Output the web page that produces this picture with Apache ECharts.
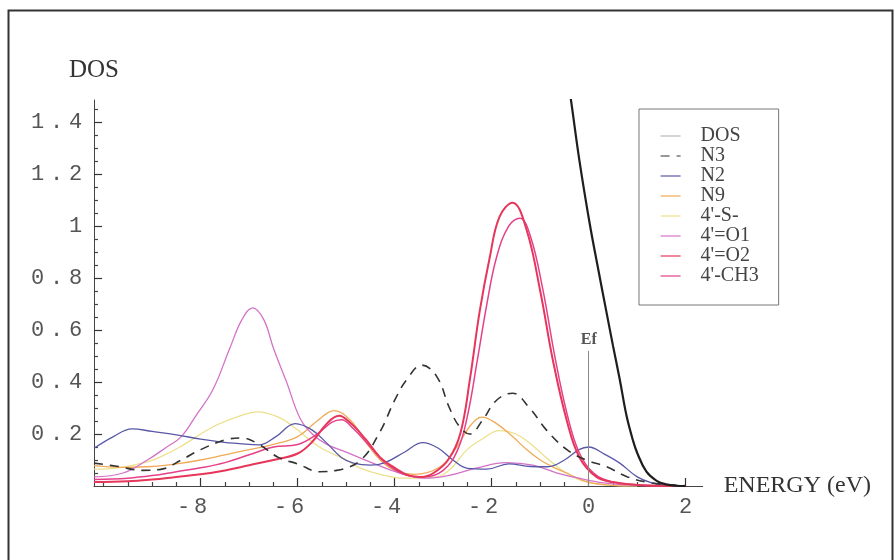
<!DOCTYPE html>
<html><head><meta charset="utf-8">
<script src="https://cdn.jsdelivr.net/npm/echarts@6/dist/echarts.min.js"></script>
<style>html,body{margin:0;padding:0;background:#fff}#c{width:895px;height:560px}</style>
</head><body><div id="c"></div>
<script>
// ---- tick labels ----
const xMajorTicks = [-8, -6, -4, -2, 0, 2];
const xMinorTicks = [-10, -9.5, -9, -8.5, -7.5, -7, -6.5, -5.5, -5, -4.5, -3.5, -3, -2.5, -1.5, -1, -0.5, 0.5, 1, 1.5];
const yMajorTicks = [0.2, 0.4, 0.6, 0.8, 1, 1.2, 1.4];
const yMinorTicks = [0.05, 0.1, 0.15, 0.25, 0.3, 0.35, 0.45, 0.5, 0.55, 0.65, 0.7, 0.75, 0.85, 0.9, 0.95, 1.05, 1.1, 1.15, 1.25, 1.3, 1.35, 1.45];

// ---- series names ----
const seriesNames = ["DOS", "N3", "N2", "N9", "4'-S-", "4'=O1", "4'=O2", "4'-CH3"];

// ---- data (energy in eV, DOS) ----
const dosX = [-0.5, -0.37, -0.19, 0.02, 0.2, 0.37, 0.5, 0.64, 0.78, 0.91, 1.0, 1.19, 1.4, 1.6, 1.8, 2.0];
const dosY = [1.65, 1.49, 1.25, 1.01, 0.83, 0.665, 0.54, 0.41, 0.27, 0.177, 0.127, 0.055, 0.02, 0.006, 0.001, 0];

const n3X = [-10.2, -9.7, -9.2, -8.8, -8.4, -8.0, -7.5, -7.15, -6.8, -6.4, -6.0, -5.55, -5.2, -4.7, -4.3, -4.0, -3.75, -3.44, -3.13, -2.87, -2.66, -2.45, -2.2, -1.9, -1.57, -1.22, -0.87, -0.45, -0.05, 0.37, 0.8, 1.2, 1.6, 2.0];
const n3Y = [0.088, 0.075, 0.06, 0.065, 0.10, 0.14, 0.177, 0.185, 0.16, 0.11, 0.085, 0.055, 0.06, 0.10, 0.21, 0.33, 0.41, 0.465, 0.42, 0.30, 0.227, 0.2, 0.25, 0.33, 0.357, 0.30, 0.215, 0.14, 0.10, 0.074, 0.035, 0.015, 0.005, 0.001];

const n2X = [-10.2, -9.8, -9.42, -9.0, -8.5, -8.0, -7.6, -7.2, -6.8, -6.45, -6.05, -5.7, -5.4, -5.1, -4.85, -4.5, -4.2, -3.8, -3.42, -3.1, -2.8, -2.5, -2.1, -1.65, -1.2, -0.85, -0.5, -0.2, 0.0, 0.3, 0.64, 1.0, 1.3, 1.6, 2.0];
const n2Y = [0.145, 0.19, 0.22, 0.21, 0.197, 0.18, 0.17, 0.163, 0.158, 0.19, 0.24, 0.215, 0.165, 0.11, 0.088, 0.08, 0.09, 0.13, 0.167, 0.145, 0.1, 0.068, 0.065, 0.085, 0.075, 0.074, 0.1, 0.14, 0.15, 0.125, 0.088, 0.035, 0.012, 0.004, 0.0];

const n9X = [-10.2, -9.6, -9.0, -8.5, -8.0, -7.5, -7.0, -6.5, -6.0, -5.6, -5.25, -4.9, -4.6, -4.3, -4.0, -3.6, -3.07, -2.72, -2.45, -2.2, -1.9, -1.57, -1.28, -1.0, -0.7, -0.45, -0.1, 0.3, 0.8];
const n9Y = [0.078, 0.072, 0.075, 0.085, 0.1, 0.12, 0.14, 0.16, 0.19, 0.25, 0.29, 0.25, 0.17, 0.1, 0.06, 0.045, 0.073, 0.15, 0.23, 0.265, 0.24, 0.19, 0.14, 0.1, 0.07, 0.05, 0.02, 0.005, 0];

const sX = [-10.2, -9.7, -9.1, -8.85, -8.43, -7.75, -7.26, -6.82, -6.4, -6.1, -5.55, -5.0, -4.72, -4.3, -3.8, -3.13, -2.8, -2.52, -2.2, -1.84, -1.5, -1.22, -0.74, -0.33, 0.1, 0.6, 1.0];
const sY = [0.065, 0.07, 0.093, 0.11, 0.15, 0.227, 0.265, 0.285, 0.265, 0.23, 0.15, 0.1, 0.07, 0.045, 0.03, 0.035, 0.075, 0.138, 0.18, 0.213, 0.2, 0.165, 0.088, 0.035, 0.01, 0.002, 0];

const o1X = [-10.2, -9.6, -9.1, -8.7, -8.4, -8.1, -7.75, -7.4, -7.15, -6.93, -6.7, -6.5, -6.23, -5.95, -5.7, -5.4, -5.0, -4.45, -3.9, -3.4, -2.9, -2.3, -1.7, -1.15, -0.65, -0.2, 0.3, 0.8, 1.3, 2.0];
const o1Y = [0.035, 0.05, 0.1, 0.15, 0.19, 0.27, 0.37, 0.53, 0.64, 0.685, 0.64, 0.53, 0.40, 0.26, 0.2, 0.16, 0.13, 0.088, 0.05, 0.03, 0.04, 0.07, 0.09, 0.08, 0.05, 0.03, 0.012, 0.004, 0.001, 0];

const o2X = [-10.2, -9.5, -9.0, -8.5, -8.0, -7.5, -7.0, -6.5, -6.0, -5.7, -5.4, -5.15, -4.9, -4.6, -4.3, -4.0, -3.7, -3.45, -3.2, -2.9, -2.65, -2.45, -2.25, -2.04, -1.84, -1.57, -1.28, -1.0, -0.74, -0.45, -0.19, 0.16, 0.5, 1.0, 1.5, 2.0];
const o2Y = [0.015, 0.018, 0.025, 0.035, 0.045, 0.06, 0.08, 0.1, 0.125, 0.17, 0.24, 0.27, 0.24, 0.18, 0.11, 0.07, 0.04, 0.035, 0.05, 0.1, 0.2, 0.41, 0.67, 0.88, 1.035, 1.09, 0.985, 0.75, 0.485, 0.25, 0.11, 0.035, 0.015, 0.004, 0.001, 0];

const ch3X = [-10.2, -9.5, -9.0, -8.5, -8.0, -7.5, -7.0, -6.5, -6.0, -5.6, -5.3, -5.1, -4.85, -4.5, -4.2, -3.8, -3.4, -3.0, -2.7, -2.5, -2.3, -2.1, -1.9, -1.65, -1.42, -1.2, -0.95, -0.7, -0.45, -0.2, 0.1, 0.5, 1.0, 1.5, 2.0];
const ch3Y = [0.025, 0.03, 0.04, 0.055, 0.07, 0.09, 0.12, 0.15, 0.16, 0.2, 0.245, 0.255, 0.22, 0.15, 0.09, 0.045, 0.035, 0.06, 0.14, 0.27, 0.48, 0.7, 0.88, 1.0, 1.03, 0.96, 0.76, 0.5, 0.28, 0.13, 0.05, 0.015, 0.005, 0.001, 0];

// Fermi level marker
const efX = 0;
const efTop = 0.52;

function pairs(xs, ys) { return xs.map((x, i) => [x, ys[i]]); }

const colors = {
  "DOS": '#1e1e1e', "N3": '#333333', "N2": '#5858a8', "N9": '#f0aa58',
  "4'-S-": '#ede08c', "4'=O1": '#d472c8', "4'=O2": '#e6365a', "4'-CH3": '#e4418a'
};
const widths = {
  "DOS": 2.2, "N3": 1.6, "N2": 1.3, "N9": 1.3, "4'-S-": 1.3, "4'=O1": 1.3, "4'=O2": 2.0, "4'-CH3": 1.5
};
const dataFor = {
  "DOS": pairs(dosX, dosY), "N3": pairs(n3X, n3Y), "N2": pairs(n2X, n2Y), "N9": pairs(n9X, n9Y),
  "4'-S-": pairs(sX, sY), "4'=O1": pairs(o1X, o1Y), "4'=O2": pairs(o2X, o2Y), "4'-CH3": pairs(ch3X, ch3Y)
};
const drawOrder = ["4'-S-", "N9", "4'=O1", "N2", "4'-CH3", "4'=O2", "N3", "DOS"];

const series = drawOrder.map(n => ({
  name: n, type: 'line', xAxisIndex: 0, yAxisIndex: 0,
  data: dataFor[n], showSymbol: false, symbol: 'none',
  smooth: 0.4, clip: true,
  lineStyle: { color: colors[n], width: widths[n], type: n === 'N3' ? [9, 7] : 'solid' },
  itemStyle: { color: colors[n] }
}));
series.push({
  name: 'Ef', type: 'line', xAxisIndex: 0, yAxisIndex: 0,
  data: [], silent: true,
  markLine: {
    silent: true, symbol: 'none', animation: false,
    lineStyle: { color: '#888', width: 1, type: 'solid' },
    label: { show: true, position: 'end', formatter: 'Ef', fontFamily: 'Liberation Serif', fontWeight: 'bold', fontSize: 16, color: '#555', distance: 3 },
    data: [[{ coord: [efX, 0] }, { coord: [efX, efTop] }]]
  }
});

const monoRich = (w) => ({ c: { width: w, align: 'center', fontFamily: 'Liberation Mono', fontSize: 22, color: '#555' } });

const chart = echarts.init(document.getElementById('c'), null, { renderer: 'canvas' });
chart.setOption({
  animation: false,
  grid: { left: 94, top: 100, width: 608.7, height: 386 },
  xAxis: [{
    type: 'value', min: -10.2, max: 2.35,
    name: 'ENERGY (eV)', nameLocation: 'end', nameGap: 21,
    nameTextStyle: { fontFamily: 'Liberation Serif', fontSize: 24, color: '#333', verticalAlign: 'middle', align: 'left' },
    axisLine: { show: true, onZero: false, lineStyle: { color: '#444', width: 1 } },
    axisTick: { show: true, inside: true, length: 8, customValues: xMajorTicks, lineStyle: { color: '#333', width: 1.2 } },
    axisLabel: {
      show: true, margin: 10, customValues: xMajorTicks,
      formatter: v => v < 0 ? '{c|-}{c|' + (-v) + '}{c| }' : '{c|' + v + '}',
      rich: monoRich(17)
    },
    splitLine: { show: false }
  }, {
    type: 'value', min: -10.2, max: 2.35, position: 'bottom',
    axisLine: { show: false, onZero: false },
    axisTick: { show: true, inside: true, length: 4, customValues: xMinorTicks, lineStyle: { color: '#444', width: 1.2 } },
    axisLabel: { show: false }, splitLine: { show: false }
  }],
  yAxis: [{
    type: 'value', min: 0, max: 1.485,
    name: 'DOS', nameLocation: 'end', nameGap: 30,
    nameTextStyle: { fontFamily: 'Liberation Serif', fontSize: 25, color: '#333', verticalAlign: 'middle', align: 'center' },
    axisLine: { show: true, onZero: false, lineStyle: { color: '#444', width: 1 } },
    axisTick: { show: true, inside: true, length: 8, customValues: yMajorTicks, lineStyle: { color: '#333', width: 1.2 } },
    axisLabel: {
      show: true, margin: 9, customValues: yMajorTicks,
      formatter: v => String(Math.round(v * 10) / 10).split('').map(ch => '{c|' + ch + '}').join(''),
      rich: monoRich(19)
    },
    splitLine: { show: false }
  }, {
    type: 'value', min: 0, max: 1.485, position: 'left',
    axisLine: { show: false, onZero: false },
    axisTick: { show: true, inside: true, length: 4, customValues: yMinorTicks, lineStyle: { color: '#444', width: 1.2 } },
    axisLabel: { show: false }, splitLine: { show: false }
  }],
  legend: {
    orient: 'vertical', left: 639, top: 109,
    padding: [17, 20, 19, 21],
    backgroundColor: '#fff', borderColor: '#777', borderWidth: 1,
    itemWidth: 20, itemHeight: 14.6, itemGap: 0,
    itemStyle: { opacity: 0 },
    textStyle: { fontFamily: 'Liberation Serif', fontSize: 20, lineHeight: 14.6, color: '#444', padding: [0, 0, 0, 15] },
    data: seriesNames.map(n => n === 'DOS'
      ? { name: n, itemStyle: { color: '#aaa', opacity: 0 }, lineStyle: { color: '#aaa', width: 1 } }
      : { name: n, lineStyle: { width: 1.2 } }),
    selectedMode: false
  },
  graphic: [{
    type: 'rect', silent: true,
    shape: { x: 8.5, y: 10.5, width: 884, height: 600 },
    style: { fill: null, stroke: '#333', lineWidth: 2 }
  }],
  series: series
});
</script>
</body></html>
